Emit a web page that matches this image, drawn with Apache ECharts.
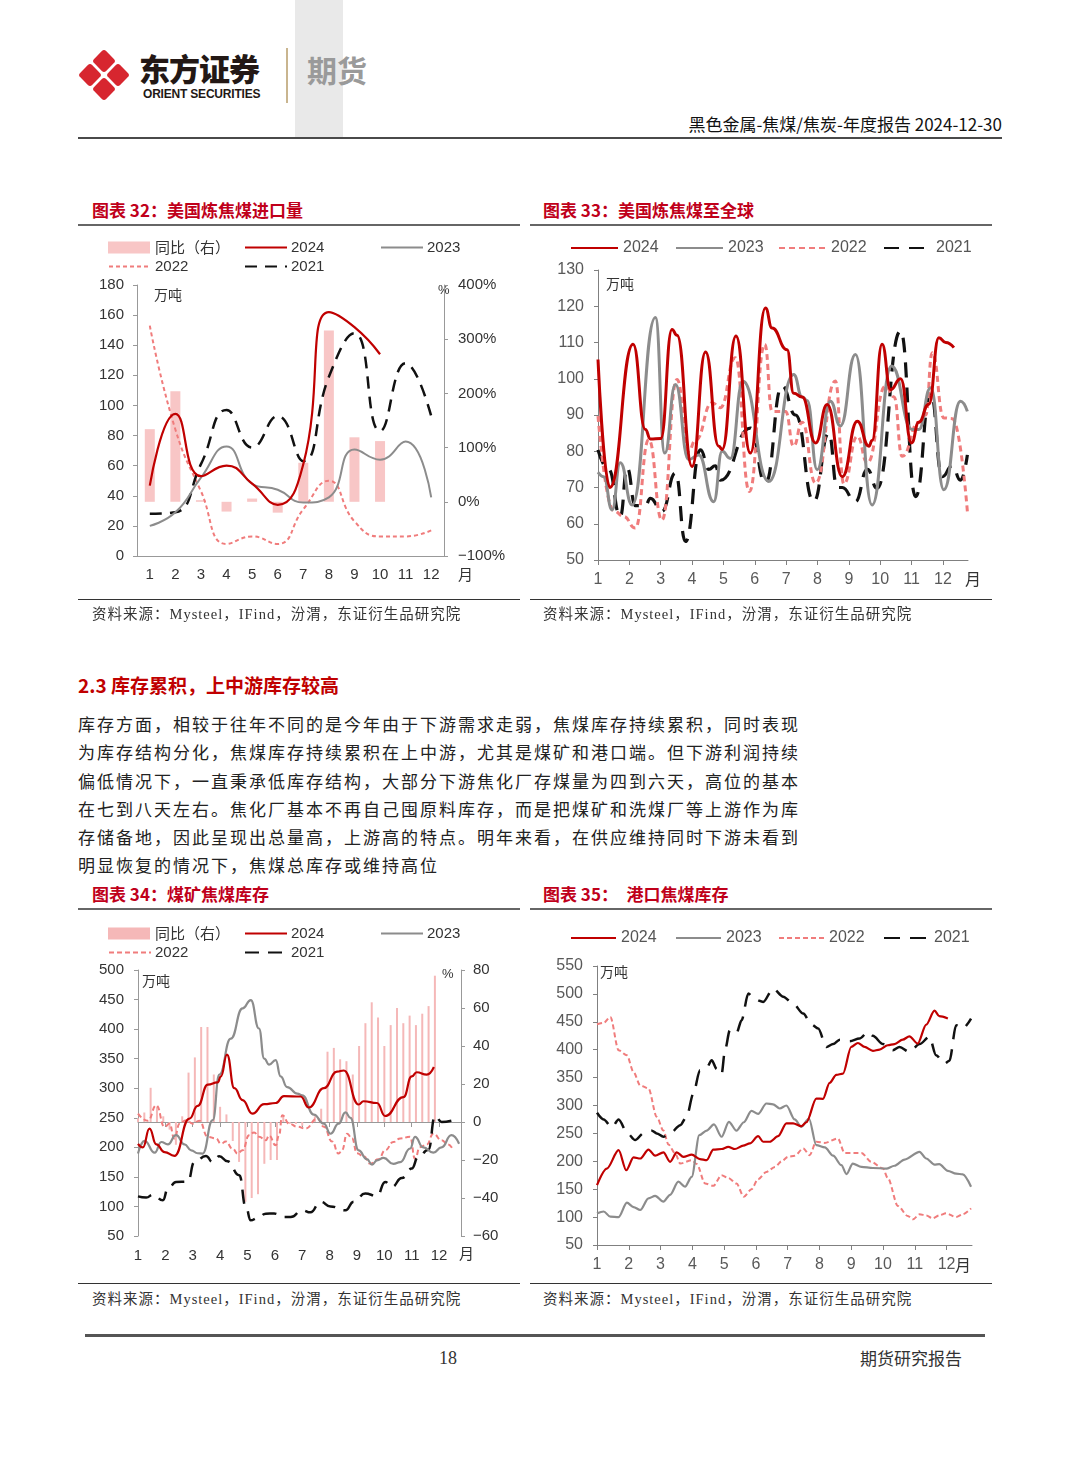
<!DOCTYPE html>
<html><head><meta charset="utf-8">
<script src="https://cdn.jsdelivr.net/npm/echarts@6/dist/echarts.min.js"></script>
<style>
body{margin:0;width:1080px;height:1465px;background:#fff;position:relative;overflow:hidden;font-family:"Noto Sans CJK SC","Noto Sans",sans-serif;color:#222}
.a{position:absolute;white-space:nowrap}
.ttl{font-size:17px;font-weight:bold;color:#C0001A;line-height:22px}
.rule{position:absolute;background:#666}
.src{font-family:"Liberation Serif","Noto Sans CJK SC",serif;font-size:14.5px;letter-spacing:1px;color:#333;line-height:20px}
.para div{font-size:17px;line-height:28.3px;height:28.3px;width:720px;text-align:justify;text-align-last:justify;white-space:nowrap;color:#222}
.chart{position:absolute}
</style></head><body>

<!-- header -->
<div class="a" style="left:295px;top:0;width:48px;height:138px;background:#E9E9E9"></div>
<svg class="a" style="left:74px;top:44px" width="60" height="62" viewBox="0 0 60 62">
  <g fill="#D7262F">
    <rect x="-8.5" y="-8.5" width="17" height="17" rx="3" transform="translate(30,17) rotate(45)"/>
    <rect x="-8.5" y="-8.5" width="17" height="17" rx="3" transform="translate(16,31) rotate(45)"/>
    <rect x="-8.5" y="-8.5" width="17" height="17" rx="3" transform="translate(44,31) rotate(45)"/>
    <rect x="-8.5" y="-8.5" width="17" height="17" rx="3" transform="translate(30,45) rotate(45)"/>
  </g>
</svg>
<div class="a" style="left:139px;top:48px;font-size:31px;font-weight:900;color:#231815;line-height:40px;letter-spacing:-1px">东方证券</div>
<div class="a" style="left:143px;top:87px;font-size:12px;font-weight:bold;font-family:'Liberation Sans',Arial;color:#231815;line-height:14px;letter-spacing:-0.2px">ORIENT SECURITIES</div>
<div class="a" style="left:286px;top:48px;width:1.5px;height:55px;background:#C9B58F"></div>
<div class="a" style="left:307px;top:49px;font-size:30px;font-weight:bold;color:#9A9A9A;line-height:40px">期货</div>
<div class="a" style="right:78px;top:112px;font-size:17px;color:#111;line-height:24px">黑色金属-焦煤/焦炭-年度报告 2024-12-30</div>
<div class="a" style="left:78px;top:137px;width:924px;height:2px;background:#4a4a4a"></div>

<!-- chart titles top -->
<div class="a ttl" style="left:92px;top:199px">图表 32：美国炼焦煤进口量</div>
<div class="rule" style="left:78px;top:224px;width:442px;height:1.5px"></div>
<div class="a ttl" style="left:543px;top:199px">图表 33：美国炼焦煤至全球</div>
<div class="rule" style="left:530px;top:224px;width:462px;height:1.5px"></div>

<div id="c32" class="chart" style="left:78px;top:230px;width:450px;height:370px"></div>
<div id="c33" class="chart" style="left:530px;top:230px;width:470px;height:370px"></div>

<div class="rule" style="left:78px;top:599px;width:442px;height:1px;background:#333"></div>
<div class="a src" style="left:92px;top:604px">资料来源：Mysteel，IFind，汾渭，东证衍生品研究院</div>
<div class="rule" style="left:530px;top:599px;width:462px;height:1px;background:#333"></div>
<div class="a src" style="left:543px;top:604px">资料来源：Mysteel，IFind，汾渭，东证衍生品研究院</div>

<!-- section text -->
<div class="a" style="left:78px;top:672px;font-size:19px;font-weight:bold;color:#C00000;line-height:26px">2.3 库存累积，上中游库存较高</div>
<div class="a para" style="left:78px;top:710px">
<div>库存方面，相较于往年不同的是今年由于下游需求走弱，焦煤库存持续累积，同时表现</div>
<div>为库存结构分化，焦煤库存持续累积在上中游，尤其是煤矿和港口端。但下游利润持续</div>
<div>偏低情况下，一直秉承低库存结构，大部分下游焦化厂存煤量为四到六天，高位的基本</div>
<div>在七到八天左右。焦化厂基本不再自己囤原料库存，而是把煤矿和洗煤厂等上游作为库</div>
<div>存储备地，因此呈现出总量高，上游高的特点。明年来看，在供应维持同时下游未看到</div>
<div style="text-align:left;text-align-last:left;letter-spacing:2px">明显恢复的情况下，焦煤总库存或维持高位</div>
</div>

<div class="a ttl" style="left:92px;top:883px">图表 34：煤矿焦煤库存</div>
<div class="rule" style="left:78px;top:908px;width:442px;height:1.5px"></div>
<div class="a ttl" style="left:543px;top:883px">图表 35：　港口焦煤库存</div>
<div class="rule" style="left:530px;top:908px;width:462px;height:1.5px"></div>

<div id="c34" class="chart" style="left:78px;top:915px;width:450px;height:368px"></div>
<div id="c35" class="chart" style="left:530px;top:920px;width:470px;height:363px"></div>

<div class="rule" style="left:78px;top:1283px;width:442px;height:1px;background:#333"></div>
<div class="a src" style="left:92px;top:1289px">资料来源：Mysteel，IFind，汾渭，东证衍生品研究院</div>
<div class="rule" style="left:530px;top:1283px;width:462px;height:1px;background:#333"></div>
<div class="a src" style="left:543px;top:1289px">资料来源：Mysteel，IFind，汾渭，东证衍生品研究院</div>

<!-- footer -->
<div class="a" style="left:85px;top:1334px;width:900px;height:3px;background:#555"></div>
<div class="a" style="left:439px;top:1347px;font-size:18px;font-family:'Liberation Serif',serif;color:#333;line-height:22px">18</div>
<div class="a" style="right:118px;top:1347px;font-size:17px;color:#333;line-height:22px">期货研究报告</div>

<script>
// ---------- DATA ----------
const months = ['1','2','3','4','5','6','7','8','9','10','11','12'];
const YOY = '同比（右）';

// Chart 32: US coking coal imports (万吨), monthly; YoY (%) on right
const c32_yoy  = [134, 204, 3, -18, 6, -20, 72, 316, 119, 112, null, null];
const c32_2024 = [46.7, 94.4, 53, 60, 48, 34, 61, 162, 152, 134, null, null];
const c32_2023 = [20, 29, 52, 72.7, 48, 44, 35.5, 39, 70.7, 64, 76, 39];
const c32_2022 = [153, 84, 43, 8, 13, 8, 31, 50, 23, 13, 13, 17];
const c32_2021 = [28, 29, 61, 97, 72, 93, 63, 119, 148, 83, 128, 93];

// Chart 33: US coking coal to world (万吨), [month position, value]
const c33_2024 = [[1,105.3],[1.38,70],[2.12,109.5],[2.51,86],[2.67,83.4],[3.0,83.5],[3.36,113.6],[3.52,112],[4.0,75.8],[4.43,107.4],[4.85,81.4],[4.96,80.5],[5.4,111.8],[5.86,79.5],[6.34,119.5],[6.55,114],[7.03,108],[7.24,96],[7.51,95],[7.94,82.3],[8.31,92.9],[8.79,73],[9.27,88.3],[9.64,81.4],[9.74,83],[10.06,109.5],[10.33,97],[10.65,100],[11.0,82.3],[11.23,88],[11.55,93],[11.87,111.3],[12.09,110],[12.35,108.6]];
const c33_2023 = [[1,74.2],[1.18,73],[1.45,63.8],[1.71,76.8],[2.09,65.2],[2.83,116.9],[3.13,79.5],[3.47,98.4],[3.89,77.7],[4.21,79],[4.69,66.1],[4.96,80],[5.22,78],[5.62,99.3],[6.45,71.7],[7.24,101.2],[7.51,95],[7.67,94],[7.99,74.9],[8.41,93.8],[8.73,87],[9.21,106.7],[9.74,65.2],[10.36,103.5],[11.02,86],[11.23,86],[11.61,97.5],[12.03,69.4],[12.56,93.8],[12.78,91]];
const c33_2022 = [[1,89.7],[1.5,63.6],[1.82,62],[2.19,58.8],[2.62,83.2],[3.04,61],[3.52,99.8],[3.89,80],[4.11,83],[4.64,93.4],[4.9,92],[5.38,105.8],[5.83,68.9],[6.32,109.5],[6.55,91],[6.98,91],[7.24,81.4],[7.51,88],[7.94,71.2],[8.57,99.4],[8.84,71],[9.27,84.1],[9.59,76.8],[10.17,98],[10.44,95],[10.7,78.6],[11.23,88],[11.45,90],[11.66,107.2],[12.03,89.2],[12.3,89],[12.78,63.4]];
const c33_2021 = [[1,80.4],[1.34,75],[1.71,62],[1.93,75.4],[2.19,65],[2.51,65],[2.67,67],[3.04,63.4],[3.47,74],[3.79,55.1],[4.27,80.4],[4.53,75],[4.74,76],[4.9,72],[5.86,86.4],[6.34,71.2],[6.87,98],[7.3,90],[7.88,66.1],[8.36,85],[8.63,70],[8.79,70],[9.21,66.1],[9.59,75],[9.9,69.8],[10.65,113.2],[11.13,67.5],[11.61,96],[11.98,73],[12.3,76],[12.56,72],[12.78,79]];

// Chart 34: coal mine coking coal inventory (万吨); weekly YoY (%) on right
const c34_yoy = [2,5,18,8,3,-4,-12,3,26,34,50,50,25,8,4,-10,-21,-42,-40,-38,-22,-20,-20,3,-1,-1,-2,0,3,7,37,39,33,32,25,40,52,63,55,40,51,60,52,56,51,57,61,77];
const c34_2024 = [[1,206],[1.18,200],[1.42,231.8],[1.67,205],[1.97,192],[2.33,185.5],[2.88,248.7],[3.18,270],[3.55,306],[3.91,310],[4.03,320],[4.25,357],[4.52,300],[4.82,280],[5.18,257],[5.61,273],[6.03,275],[6.33,286.6],[6.94,286],[7.24,267.4],[7.79,300],[8.27,328],[8.52,330],[9.06,272.5],[9.24,278],[9.73,275],[10.03,253],[10.7,285],[11.0,320],[11.18,327],[11.55,323],[11.81,336]];
const c34_2023 = [[1,189.5],[1.24,211],[1.61,191],[1.85,209],[2.09,205],[2.39,220.5],[2.7,205],[2.94,195],[3.18,190],[3.36,189.5],[3.73,246],[3.97,323],[4.39,384],[4.82,435],[5.12,449],[5.42,401],[5.61,350],[5.79,340],[6.03,347.5],[6.21,320],[6.45,302],[6.82,291],[7.0,288],[7.42,255.5],[7.79,240],[8.03,223],[8.33,240],[8.58,259],[8.76,250],[9.06,195],[9.36,180],[9.55,170.8],[9.73,178],[9.97,182],[10.33,172],[10.58,175],[10.94,198],[11.12,217.7],[11.42,200],[11.79,191],[12.09,200],[12.45,220.5],[12.73,206]];
const c34_2022 = [[1,257],[1.36,245],[1.67,271],[1.97,234.6],[2.15,240],[2.33,215],[2.52,240],[2.76,246],[3.0,240],[3.24,245],[3.55,217.7],[3.85,215],[4.03,206],[4.21,210],[4.45,198],[4.64,189.5],[4.82,195],[5.06,220.5],[5.24,225],[5.42,218],[5.67,212],[5.79,220],[6.03,203.6],[6.15,220],[6.27,254.4],[6.52,240],[6.82,235],[7.12,231.8],[7.55,248.7],[7.79,235],[8.09,210],[8.33,189.5],[8.45,195],[8.64,223],[8.82,215],[9.0,190],[9.24,185],[9.48,172.5],[9.79,180],[10.03,195],[10.33,209],[10.58,215],[10.94,217.7],[11.12,181],[11.3,200],[11.55,205],[11.79,223],[12.09,212],[12.33,205],[12.52,195]];
const c34_2021 = [[1,117],[1.3,115],[1.55,120],[1.91,110.4],[2.09,130],[2.39,141.5],[2.82,142],[3.06,175],[3.48,185.5],[3.73,175],[3.97,185],[4.27,176.5],[4.7,152.8],[4.94,99],[5.12,76.5],[5.36,80],[5.67,87.8],[5.97,88],[6.33,82],[6.58,82],[7.0,93.5],[7.3,90],[7.67,108],[8.03,100],[8.58,93.5],[8.88,108],[9.3,121.7],[9.73,118],[10.03,141.5],[10.27,133],[10.64,148],[11.0,164],[11.24,184],[11.61,196],[11.85,253],[12.09,243],[12.52,246]];

// Chart 35: port coking coal inventory (万吨)
const c35_2024 = [[1,157.4],[1.31,187],[1.68,220],[1.92,184],[2.15,207],[2.36,205],[2.62,221],[2.83,210],[3.09,216],[3.3,199],[3.51,216],[3.72,208],[3.98,212],[4.24,204],[4.45,202],[4.66,221],[4.92,222],[5.13,226],[5.34,222],[5.6,228],[5.81,232],[6.07,245],[6.23,235],[6.44,235],[6.7,245],[6.96,267.8],[7.17,268],[7.43,263],[7.59,270],[7.9,312.5],[8.11,312],[8.32,340.6],[8.53,355],[8.74,357],[9.0,405],[9.21,412],[9.42,405],[9.68,398],[9.89,400],[10.15,408],[10.36,410],[10.62,418],[10.83,424],[11.09,411],[11.36,445],[11.62,470],[11.77,460],[12.04,455.8]];
const c35_2023 = [[1,106.7],[1.21,110],[1.42,100.7],[1.68,100],[1.94,125.8],[2.15,118],[2.36,112.7],[2.62,133.5],[2.83,138],[3.09,127.6],[3.3,140],[3.56,163.4],[3.77,154.4],[3.98,172],[4.22,247],[4.45,255],[4.68,266],[4.92,244],[5.15,270.8],[5.39,255],[5.62,270],[5.86,290.5],[6.07,285],[6.33,303.6],[6.54,302],[6.75,294.6],[6.96,300],[7.22,275],[7.43,261.8],[7.67,276.7],[7.9,229],[8.17,225],[8.43,210],[8.69,193],[8.85,177],[9.05,196],[9.32,190],[9.68,188],[10.1,187],[10.36,192],[10.68,203],[11.15,217],[11.36,205],[11.62,194],[11.77,195],[12.04,183],[12.3,178],[12.51,176.5],[12.77,154.4]];
const c35_2022 = [[1,445.6],[1.21,448],[1.42,458.7],[1.68,399],[1.94,390],[2.15,360],[2.36,336],[2.62,330.5],[2.88,279.7],[3.09,255],[3.25,230],[3.46,214],[3.62,196],[3.98,202],[4.14,195],[4.4,160.4],[4.66,156],[4.92,175],[5.13,170],[5.39,160],[5.62,136.5],[5.86,150],[6.07,168],[6.33,181],[6.6,190],[6.81,200],[7.01,208],[7.22,210],[7.49,223],[7.69,211],[7.9,235],[8.17,233],[8.58,241],[8.79,215],[9.11,215],[9.32,215],[9.63,199],[10.0,187],[10.15,170],[10.47,120],[10.78,102],[10.94,96],[11.15,105],[11.36,103],[11.56,98],[11.77,103],[11.98,106.7],[12.3,100],[12.51,105],[12.77,115.6]];
const c35_2021 = [[1,287],[1.21,275],[1.47,260.6],[1.68,275],[1.96,250],[2.2,238],[2.46,250],[2.73,254.7],[2.88,250],[3.09,244],[3.3,250],[3.62,264.8],[3.82,280],[4.03,321],[4.24,363],[4.45,368],[4.61,381],[4.77,365],[4.92,356],[5.03,400],[5.18,435],[5.39,430],[5.55,452.8],[5.76,500.5],[5.97,490],[6.23,485.6],[6.54,509.5],[6.86,495],[7.17,482.6],[7.49,464.7],[7.75,445],[7.96,437.9],[8.22,405],[8.43,410],[8.64,418],[8.95,415],[9.26,420],[9.53,431.9],[9.68,425],[10.0,410],[10.31,399],[10.52,405],[10.83,396],[11.15,410],[11.46,423],[11.67,390],[11.93,375],[12.09,380],[12.3,443.8],[12.51,438],[12.77,455.8]];

// ---------- STYLE ----------
const NUM = '"Liberation Sans", Arial, sans-serif';
const CJK = '"Noto Sans CJK SC", sans-serif';
const C24 = '#C00000', C23 = '#8C8C8C', C22 = '#F07C7C', C21 = '#111111';

function line(name, data, color, width, dash, smooth, yi) {
  return {
    name, type: 'line', data, yAxisIndex: yi || 0, symbol: 'none', smooth,
    smoothMonotone: Array.isArray(data[0]) ? 'x' : undefined,
    connectNulls: false,
    lineStyle: { color, width, type: dash || 'solid', cap: 'butt' },
    itemStyle: { color }
  };
}
function leg(name, left, top, opts) {
  return Object.assign({
    data: [name], left, top, padding: 0, itemGap: 0, selectedMode: false,
    itemWidth: 42, itemHeight: 14,
    itemStyle: { opacity: 0 },
    textStyle: { fontSize: 15, color: '#333', fontFamily: NUM, padding: [0, 0, 0, -1] }
  }, opts || {});
}
function txt(text, left, top, size, fam) {
  return { type: 'text', left, top, silent: true,
    style: { text, fontSize: size || 14, fill: '#333', fontFamily: fam || CJK } };
}
function valX(color, fs, lc) {
  return {
    type: 'value', min: 1, max: 12.8, interval: 1,
    axisLine: { show: true, lineStyle: { color: color, width: 1 } },
    axisTick: { show: true, length: 5, lineStyle: { color: color } },
    splitLine: { show: false },
    axisLabel: { margin: 12, fontSize: fs, color: lc, fontFamily: NUM, showMaxLabel: false,
      formatter: v => (Math.abs(v - Math.round(v)) < 1e-6 && v <= 12) ? String(Math.round(v)) : '' }
  };
}
function valY(min, max, interval, color, fs, lc, fmt, pos, margin) {
  return {
    type: 'value', min, max, interval, position: pos || 'left',
    axisLine: { show: true, lineStyle: { color, width: 1 } },
    axisTick: { show: true, length: 4, lineStyle: { color } },
    splitLine: { show: false },
    axisLabel: { margin: margin || 13, fontSize: fs, color: lc, fontFamily: NUM, formatter: fmt }
  };
}
const pctFmt = v => (v < 0 ? '\u2212' + (-v) : v) + '%';
const negFmt = v => (v < 0 ? '\u2212' + (-v) : String(v));
const barLeg = { icon: 'rect', itemHeight: 12, itemStyle: {}, textStyle: { fontSize: 15, color: '#333', fontFamily: CJK } };
const bigLeg = w => ({ itemWidth: w, textStyle: { fontSize: 16, color: '#555', fontFamily: NUM } });

// ---------- CHART 32 ----------
echarts.init(document.getElementById('c32')).setOption({
  animation: false,
  grid: { left: 59, right: 84, top: 55, bottom: 44 },
  legend: [
    leg(YOY, 30, 10, barLeg),
    leg('2024', 166, 10), leg('2023', 302, 10),
    leg('2022', 30, 29), leg('2021', 166, 29)
  ],
  xAxis: {
    type: 'category', data: months,
    axisLine: { lineStyle: { color: '#999' } },
    axisTick: { length: 5, lineStyle: { color: '#999' } },
    axisLabel: { margin: 11, fontSize: 15, color: '#333', fontFamily: NUM }
  },
  yAxis: [
    valY(0, 180, 20, '#999', 15, '#333', null, 'left', 13),
    valY(-100, 400, 100, '#999', 15, '#333', pctFmt, 'right', 14)
  ],
  series: [
    { name: YOY, type: 'bar', yAxisIndex: 1, data: c32_yoy, barWidth: 10,
      itemStyle: { color: '#F8C6C6' } },
    line('2022', c32_2022, C22, 2, [4, 3], true),
    line('2021', c32_2021, C21, 2.5, [12, 8], true),
    line('2023', c32_2023, C23, 2, null, true),
    line('2024', c32_2024, C24, 2.2, null, true)
  ],
  graphic: [ txt('万吨', 76, 58), txt('%', 360, 54, 13, NUM), txt('月', 380, 337, 15) ]
});

// ---------- CHART 33 ----------
echarts.init(document.getElementById('c33')).setOption({
  animation: false,
  grid: { left: 68, right: 32, top: 40, bottom: 40 },
  legend: [
    leg('2024', 40, 10, bigLeg(47)), leg('2023', 145, 10, bigLeg(47)),
    leg('2022', 248, 10, bigLeg(47)), leg('2021', 353, 10, bigLeg(47))
  ],
  xAxis: valX('#808080', 16, '#595959'),
  yAxis: valY(50, 130, 10, '#808080', 16, '#595959', null, 'left', 14),
  series: [
    line('2021', c33_2021, C21, 3.2, [15, 10], true),
    line('2022', c33_2022, C22, 3, [6, 4], true),
    line('2023', c33_2023, C23, 3, null, true),
    line('2024', c33_2024, C24, 3, null, true)
  ],
  graphic: [ txt('万吨', 76, 47), txt('月', 435, 341, 16) ]
});

// ---------- CHART 34 ----------
const c34_bars = c34_yoy.map((v, i) => [1 + i * 12 / 52, v]);
echarts.init(document.getElementById('c34')).setOption({
  animation: false,
  grid: { left: 60, right: 67, top: 55, bottom: 47 },
  legend: [
    leg(YOY, 30, 11, barLeg),
    leg('2024', 166, 11), leg('2023', 302, 11),
    leg('2022', 30, 30), leg('2021', 166, 30)
  ],
  xAxis: valX('#999', 15, '#333'),
  yAxis: [
    valY(50, 500, 50, '#999', 15, '#333', null, 'left', 14),
    valY(-60, 80, 20, '#999', 15, '#333', negFmt, 'right', 12)
  ],
  series: [
    { name: YOY, type: 'bar', yAxisIndex: 1, data: c34_bars, barWidth: 2,
      itemStyle: { color: '#F5B8B8' } },
    line('2022', c34_2022, C22, 2, [5, 3], true),
    line('2021', c34_2021, C21, 2.5, [14, 9], true),
    line('2023', c34_2023, C23, 2.2, null, true),
    line('2024', c34_2024, C24, 2.2, null, true)
  ],
  graphic: [ txt('万吨', 64, 59), txt('%', 364, 53, 13, NUM), txt('月', 381, 331, 15) ]
});

// ---------- CHART 35 ----------
echarts.init(document.getElementById('c35')).setOption({
  animation: false,
  grid: { left: 67, right: 28, top: 46, bottom: 38 },
  legend: [
    leg('2024', 40, 10, bigLeg(45)), leg('2023', 145, 10, bigLeg(45)),
    leg('2022', 248, 10, bigLeg(45)), leg('2021', 353, 10, bigLeg(45))
  ],
  xAxis: valX('#808080', 16, '#595959'),
  yAxis: valY(50, 550, 50, '#808080', 16, '#595959', null, 'left', 14),
  series: [
    line('2022', c35_2022, C22, 2, [5, 3], 0.3),
    line('2021', c35_2021, C21, 2.5, [16, 10], 0.3),
    line('2023', c35_2023, C23, 2.2, null, 0.3),
    line('2024', c35_2024, C24, 2.2, null, 0.3)
  ],
  graphic: [ txt('万吨', 70, 45), txt('月', 425, 337, 16) ]
});
</script>
</body></html>
